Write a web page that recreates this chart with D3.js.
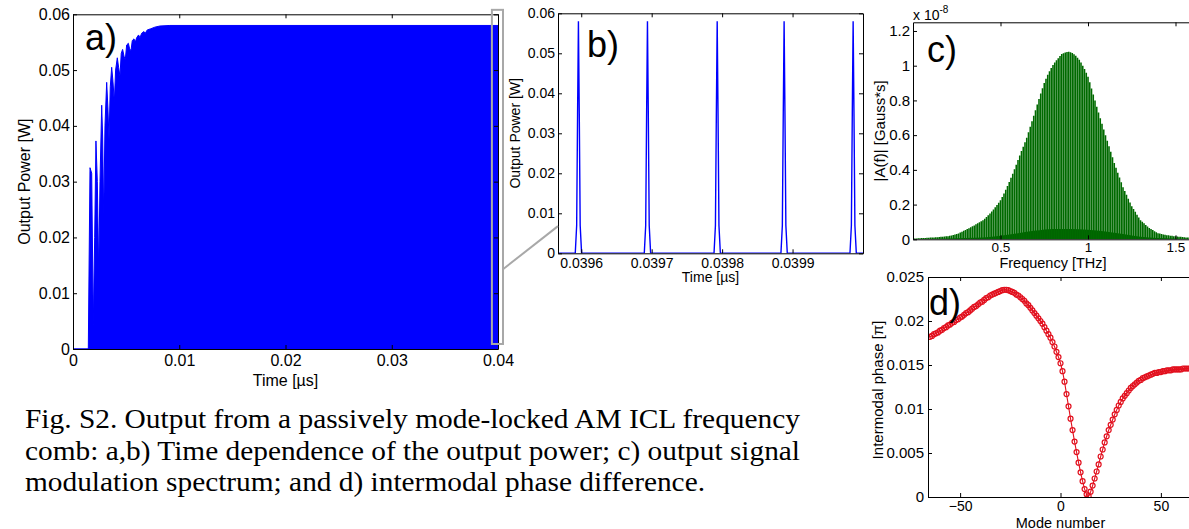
<!DOCTYPE html>
<html><head><meta charset="utf-8">
<script src="https://cdn.jsdelivr.net/npm/d3@7"></script>
<style>
body{margin:0;background:#fff}
svg{display:block}
</style>
</head><body>
<svg id="fig" width="1189" height="529"></svg>
<script>
// ---------------- DATA ----------------
// a) envelope of the output power (W) vs time (µs)
const aTime = [0, 0.00144, 0.00160, 0.00176, 0.00191, 0.00204, 0.00216, 0.00229, 0.00242, 0.00254,
  0.00270, 0.00279, 0.00289, 0.00301, 0.00317, 0.00329, 0.00339, 0.00351, 0.00364, 0.00376,
  0.00389, 0.00401, 0.00417, 0.00429, 0.00442, 0.00454, 0.00467, 0.00480, 0.00492, 0.00505,
  0.00521, 0.00533, 0.00546, 0.00558, 0.00574, 0.00586, 0.00599, 0.00617, 0.00630, 0.00646,
  0.00668, 0.00680, 0.00699, 0.00731, 0.00771, 0.00818, 0.00912, 0.0399, 0.04];
const aPower = [0, 0, 0.0325, 0.0315, 0.0043, 0.020, 0.0373, 0.030, 0.0137, 0.030,
  0.0437, 0.038, 0.0237, 0.040, 0.0478, 0.043, 0.0375, 0.047, 0.0505, 0.048,
  0.0443, 0.050, 0.0522, 0.0505, 0.0489, 0.053, 0.0537, 0.0525, 0.0518, 0.0545,
  0.0548, 0.0538, 0.0535, 0.0553, 0.0556, 0.0550, 0.0558, 0.0563, 0.0558, 0.0566,
  0.0569, 0.0566, 0.0572, 0.0574, 0.0577, 0.0579, 0.0580, 0.0580, 0.0580];
const aXTicks = [0, 0.01, 0.02, 0.03, 0.04];
const aYTicks = [0, 0.01, 0.02, 0.03, 0.04, 0.05, 0.06];

// b) zoom on the pulse train
const bDomain = [0.039567, 0.04];
const bPeakTime = [0.039596, 0.039694, 0.039793, 0.039888, 0.039986];
const bPeakPower = [0.058, 0.058, 0.058, 0.058, 0.058];
const bPulseOffset = [-4.5e-6, -2.5e-6, -1.2e-6, 0, 1.2e-6, 2.5e-6, 4.5e-6];
const bPulseFrac = [0, 0.12, 0.6, 1, 0.6, 0.12, 0];
const bXTicks = [0.0396, 0.0397, 0.0398, 0.0399];
const bYTicks = [0, 0.01, 0.02, 0.03, 0.04, 0.05, 0.06];

// c) modulation spectrum |A(f)| (x1e-8 Gauss*s), lines every 0.01 THz from 0 to 1.6 THz
const cStep = 0.01;
const cAmp = [
  .005,.005,.005,.006,.006,.007,.007,.008,.009,.009,
  .010,.011,.011,.012,.012,.013,.014,.015,.016,.017,
  .018,.020,.022,.025,.027,.030,.034,.039,.044,.049,
  .054,.059,.064,.069,.075,.080,.086,.092,.098,.104,
  .110,.119,.128,.139,.149,.160,.172,.184,.197,.211,
  .225,.244,.264,.285,.307,.330,.354,.378,.404,.430,
  .457,.482,.508,.533,.559,.585,.617,.649,.680,.712,
  .744,.776,.808,.840,.870,.900,.925,.948,.968,.987,
  1.004,1.018,1.031,1.043,1.056,1.067,1.072,1.076,1.079,1.080,
  1.078,1.073,1.066,1.057,1.046,1.034,1.018,1.000,.981,.960,
  .937,.904,.869,.834,.799,.764,.731,.698,.665,.632,
  .600,.568,.536,.504,.472,.440,.412,.384,.356,.328,
  .300,.278,.256,.234,.212,.190,.174,.158,.142,.126,
  .110,.101,.092,.083,.074,.065,.059,.053,.047,.041,
  .035,.033,.031,.028,.026,.024,.023,.021,.020,.018,
  .017,.016,.015,.014,.013,.012,.011,.010,.010,.009,.008];
const cFloorFreq = [0, 0.2, 0.4, 0.5, 0.6, 0.7, 0.8, 0.9, 1.0, 1.1, 1.2, 1.3, 1.4, 1.6];
const cFloorAmp  = [0.002, 0.005, 0.01, 0.02, 0.035, 0.05, 0.06, 0.06, 0.055, 0.045, 0.03, 0.015, 0.008, 0.003];
const cXTicks = [0.5, 1, 1.5];
const cYTicks = [0, 0.2, 0.4, 0.6, 0.8, 1, 1.2];

// d) intermodal phase (pi) for mode numbers -65..65
const dFirstMode = -65;
const dPhase = [
  .0182,.0183,.0185,.0186,.0187,.0189,.0190,.0192,.0193,.0195,
  .0196,.0198,.0199,.0201,.0202,.0204,.0205,.0207,.0209,.0210,
  .0212,.0214,.0216,.0217,.0219,.0221,.0222,.0224,.0226,.0227,
  .0229,.0230,.0231,.0232,.0233,.0234,.02350,.02355,.02355,.0235,
  .0234,.0233,.0232,.0230,.0229,.0227,.0225,.0223,.0220,.0218,
  .0215,.0212,.0209,.0206,.0203,.0200,.0197,.0193,.0189,.0185,
  .0181,.0176,.0171,.0165,.0159,.0152,.0143,.0131,.0117,.0103,
  .0089,.0076,.0063,.0051,.0039,.0028,.0018,.0009,.0003,.0001,
  .0006,.0013,.0021,.0029,.0037,.0046,.0054,.0062,.0069,.0076,
  .0082,.0088,.0094,.0099,.0104,.0108,.0112,.0115,.0118,.0121,
  .0124,.0126,.0128,.0130,.0132,.0133,.0135,.0136,.0137,.0138,
  .0139,.0140,.0141,.0141,.0142,.0142,.0143,.0143,.0144,.0144,
  .0144,.0145,.0145,.0145,.0145,.0145,.0146,.0146,.0146,.0146,.0146];
const dXTicks = [-50, 0, 50];
const dYTicks = [0, 0.005, 0.01, 0.015, 0.02, 0.025];

const captionLines = [
  "Fig. S2. Output from a passively mode-locked AM ICL frequency",
  "comb: a,b) Time dependence of the output power; c) output signal",
  "modulation spectrum; and d) intermodal phase difference."
];

// ---------------- DRAWING ----------------
const SANS = '"Liberation Sans", Arial, Helvetica, sans-serif';
const SERIF = '"Liberation Serif", "Times New Roman", Times, serif';
const svg = d3.select('#fig');
svg.append('rect').attr('width',1189).attr('height',529).attr('fill','#fff');
const defs = svg.append('defs');
let clipN = 0;
function clip(x, y){
  const id = 'clip'+(clipN++);
  const [x0,x1] = x.range(), [y0,y1] = y.range();
  defs.append('clipPath').attr('id',id).append('rect')
    .attr('x',x0).attr('y',y1).attr('width',x1-x0).attr('height',y0-y1);
  return 'url(#'+id+')';
}
const num = d => d === 0 ? '0' : String(+d.toFixed(6));

function axes(g, x, y, o){
  const tl = o.tl || 4;
  const [xl,xr] = x.range(), [yb_,yt] = y.range();
  const mk = (ax, tr) => {
    const s = g.append('g').attr('transform',tr).call(ax);
    s.select('.domain').attr('stroke','#000').attr('stroke-width',1);
    s.selectAll('.tick line').attr('stroke','#000').attr('stroke-width',1);
    s.selectAll('text').attr('fill','#000').style('font-family',SANS);
    return s;
  };
  mk(d3.axisBottom(x).tickValues(o.xt).tickFormat(o.xf).tickSizeInner(-tl).tickSizeOuter(0).tickPadding(o.xpad), `translate(0,${yb_})`)
    .selectAll('text').style('font-size',(o.xfs||o.fs)+'px');
  mk(d3.axisTop(x).tickValues(o.xt).tickFormat(()=> '').tickSizeInner(-tl).tickSizeOuter(0), `translate(0,${yt})`);
  mk(d3.axisLeft(y).tickValues(o.yt).tickFormat(o.yf).tickSizeInner(-tl).tickSizeOuter(0).tickPadding(o.ypad), `translate(${xl},0)`)
    .selectAll('text').style('font-size',o.fs+'px');
  mk(d3.axisRight(y).tickValues(o.yt).tickFormat(()=> '').tickSizeInner(-tl).tickSizeOuter(0), `translate(${xr},0)`);
}
function label(g, txt, x, y, fs, rot){
  const t = g.append('text').attr('text-anchor','middle').style('font-family',SANS)
    .style('font-size',fs+'px').attr('fill','#000').text(txt);
  if (rot) t.attr('transform',`translate(${x},${y}) rotate(-90)`);
  else t.attr('x',x).attr('y',y);
  return t;
}
function letter(g, txt, x, y){
  g.append('text').attr('x',x).attr('y',y).style('font-family',SANS).style('font-size','36px')
    .attr('fill','#000').text(txt);
}

// ----- a)
const xa = d3.scaleLinear([0,0.04],[73,498]);
const ya = d3.scaleLinear([0,0.06],[349,14.3]);
const ga = svg.append('g');
ga.append('path').attr('clip-path',clip(xa,ya))
  .datum(aTime.map((t,i)=>[t,aPower[i]]))
  .attr('d', d3.area().x(d=>xa(d[0])).y0(ya(0)).y1(d=>ya(d[1])))
  .attr('fill','#0000ff').attr('stroke','#0000ff').attr('stroke-width',1);
axes(ga, xa, ya, {xt:aXTicks, yt:aYTicks, xf:num, yf:num, fs:16, xpad:6, ypad:3});
label(ga, 'Time [µs]', (73+498)/2, 386, 16);
label(ga, 'Output Power [W]', 30, (14.3+349)/2, 16, true);
letter(ga, 'a)', 85, 50);

// ----- b)
const xb = d3.scaleLinear(bDomain,[558,863]);
const yb = d3.scaleLinear([0,0.06],[253.3,13.3]);
const gb = svg.append('g');
const bPts = [[bDomain[0],0]];
bPeakTime.forEach((tp,k)=>{
  bPulseOffset.forEach((dt,j)=> bPts.push([tp+dt, bPeakPower[k]*bPulseFrac[j]]));
});
bPts.push([bDomain[1],0]);
gb.append('path').attr('clip-path',clip(xb,yb)).datum(bPts)
  .attr('d', d3.line().x(d=>xb(d[0])).y(d=>yb(d[1])))
  .attr('fill','none').attr('stroke','#0000ff').attr('stroke-width',1.4);
axes(gb, xb, yb, {xt:bXTicks, yt:bYTicks, xf:d=>d.toFixed(4), yf:num, fs:14, xpad:5, ypad:3});
label(gb, 'Time [µs]', (558+863)/2, 282, 14);
label(gb, 'Output Power [W]', 520, (13.3+253.3)/2, 14, true);
letter(gb, 'b)', 587, 57);

// zoom annotation (gray box and connector)
const gz = svg.append('g');
gz.append('rect').attr('x', xa(bDomain[0])-1.5).attr('y', ya(0.0608))
  .attr('width', xa(bDomain[1]) - xa(bDomain[0]) + 6.5).attr('height', ya(0.0009)-ya(0.0608))
  .attr('fill','none').attr('stroke','#a8a8a8').attr('stroke-width',2);
gz.append('line').attr('x1', xa(bDomain[1])+5).attr('y1', ya(0.0143))
  .attr('x2', xb(bDomain[0])).attr('y2', yb(0.0068))
  .attr('stroke','#a8a8a8').attr('stroke-width',2);

// ----- c)
const xc = d3.scaleLinear([0,1.6],[913,1193]);
const yc = d3.scaleLinear([0,1.25],[239.3,22.3]);
const gc = svg.append('g');
const cClip = clip(xc,yc);
const gcd = gc.append('g').attr('clip-path',cClip);
gcd.append('path').datum(cFloorFreq.map((f,i)=>[f,cFloorAmp[i]]))
  .attr('d', d3.area().x(d=>xc(d[0])).y0(yc(0)).y1(d=>yc(d[1])).curve(d3.curveMonotoneX))
  .attr('fill','#005c00');
gcd.selectAll('line.comb').data(cAmp).join('line').attr('class','comb')
  .attr('x1',(d,i)=>xc(i*cStep)).attr('x2',(d,i)=>xc(i*cStep))
  .attr('y1',yc(0)).attr('y2',d=>yc(d))
  .attr('stroke','#006a00').attr('stroke-width',1.6);
axes(gc, xc, yc, {xt:cXTicks, yt:cYTicks, xf:num, yf:num, fs:15, xfs:13.5, xpad:3, ypad:3});
label(gc, 'Frequency [THz]', (913+1193)/2, 268, 14.5);
label(gc, '|A(f)| [Gauss*s]', 885, (22.3+239.3)/2, 15, true);
const sx = gc.append('text').attr('x',913).attr('y',20).style('font-family',SANS).style('font-size','14px').attr('fill','#000');
sx.append('tspan').text('x 10');
sx.append('tspan').attr('dy',-7).style('font-size','10px').text('-8');
letter(gc, 'c)', 927, 62);

// ----- d)
const xd = d3.scaleLinear([-66,66],[928,1193]);
const yd = d3.scaleLinear([0,0.025],[497,277]);
const gd = svg.append('g');
const dPts = dPhase.map((v,i)=>[dFirstMode+i, v]);
const gdd = gd.append('g').attr('clip-path',clip(xd,yd));
gdd.append('path').datum(dPts).attr('d', d3.line().x(d=>xd(d[0])).y(d=>yd(d[1])))
  .attr('fill','none').attr('stroke','#e2101e').attr('stroke-width',1.1);
gdd.selectAll('circle').data(dPts).join('circle')
  .attr('cx',d=>xd(d[0])).attr('cy',d=>yd(d[1])).attr('r',2.5)
  .attr('fill','none').attr('stroke','#e2101e').attr('stroke-width',1.2);
axes(gd, xd, yd, {xt:dXTicks, yt:dYTicks, xf:d=>d<0?'\u2212'+(-d):String(d), yf:num, fs:15, xfs:14, xpad:4, ypad:4});
label(gd, 'Mode number', (928+1193)/2, 527.5, 14.5);
label(gd, 'Intermodal phase [\u03c0]', 883, 390, 15, true);
letter(gd, 'd)', 929, 315);

// ----- caption
const capBase = [428, 459.5, 491];
const capWidth = [775, 775, 680];
const gcap = svg.append('g');
captionLines.forEach((s,i)=>{
  gcap.append('text').attr('x',25).attr('y',capBase[i])
    .style('font-family',SERIF).style('font-size','28px').attr('fill','#000')
    .attr('textLength',capWidth[i]).attr('lengthAdjust','spacingAndGlyphs')
    .text(s);
});
</script>
</body></html>
